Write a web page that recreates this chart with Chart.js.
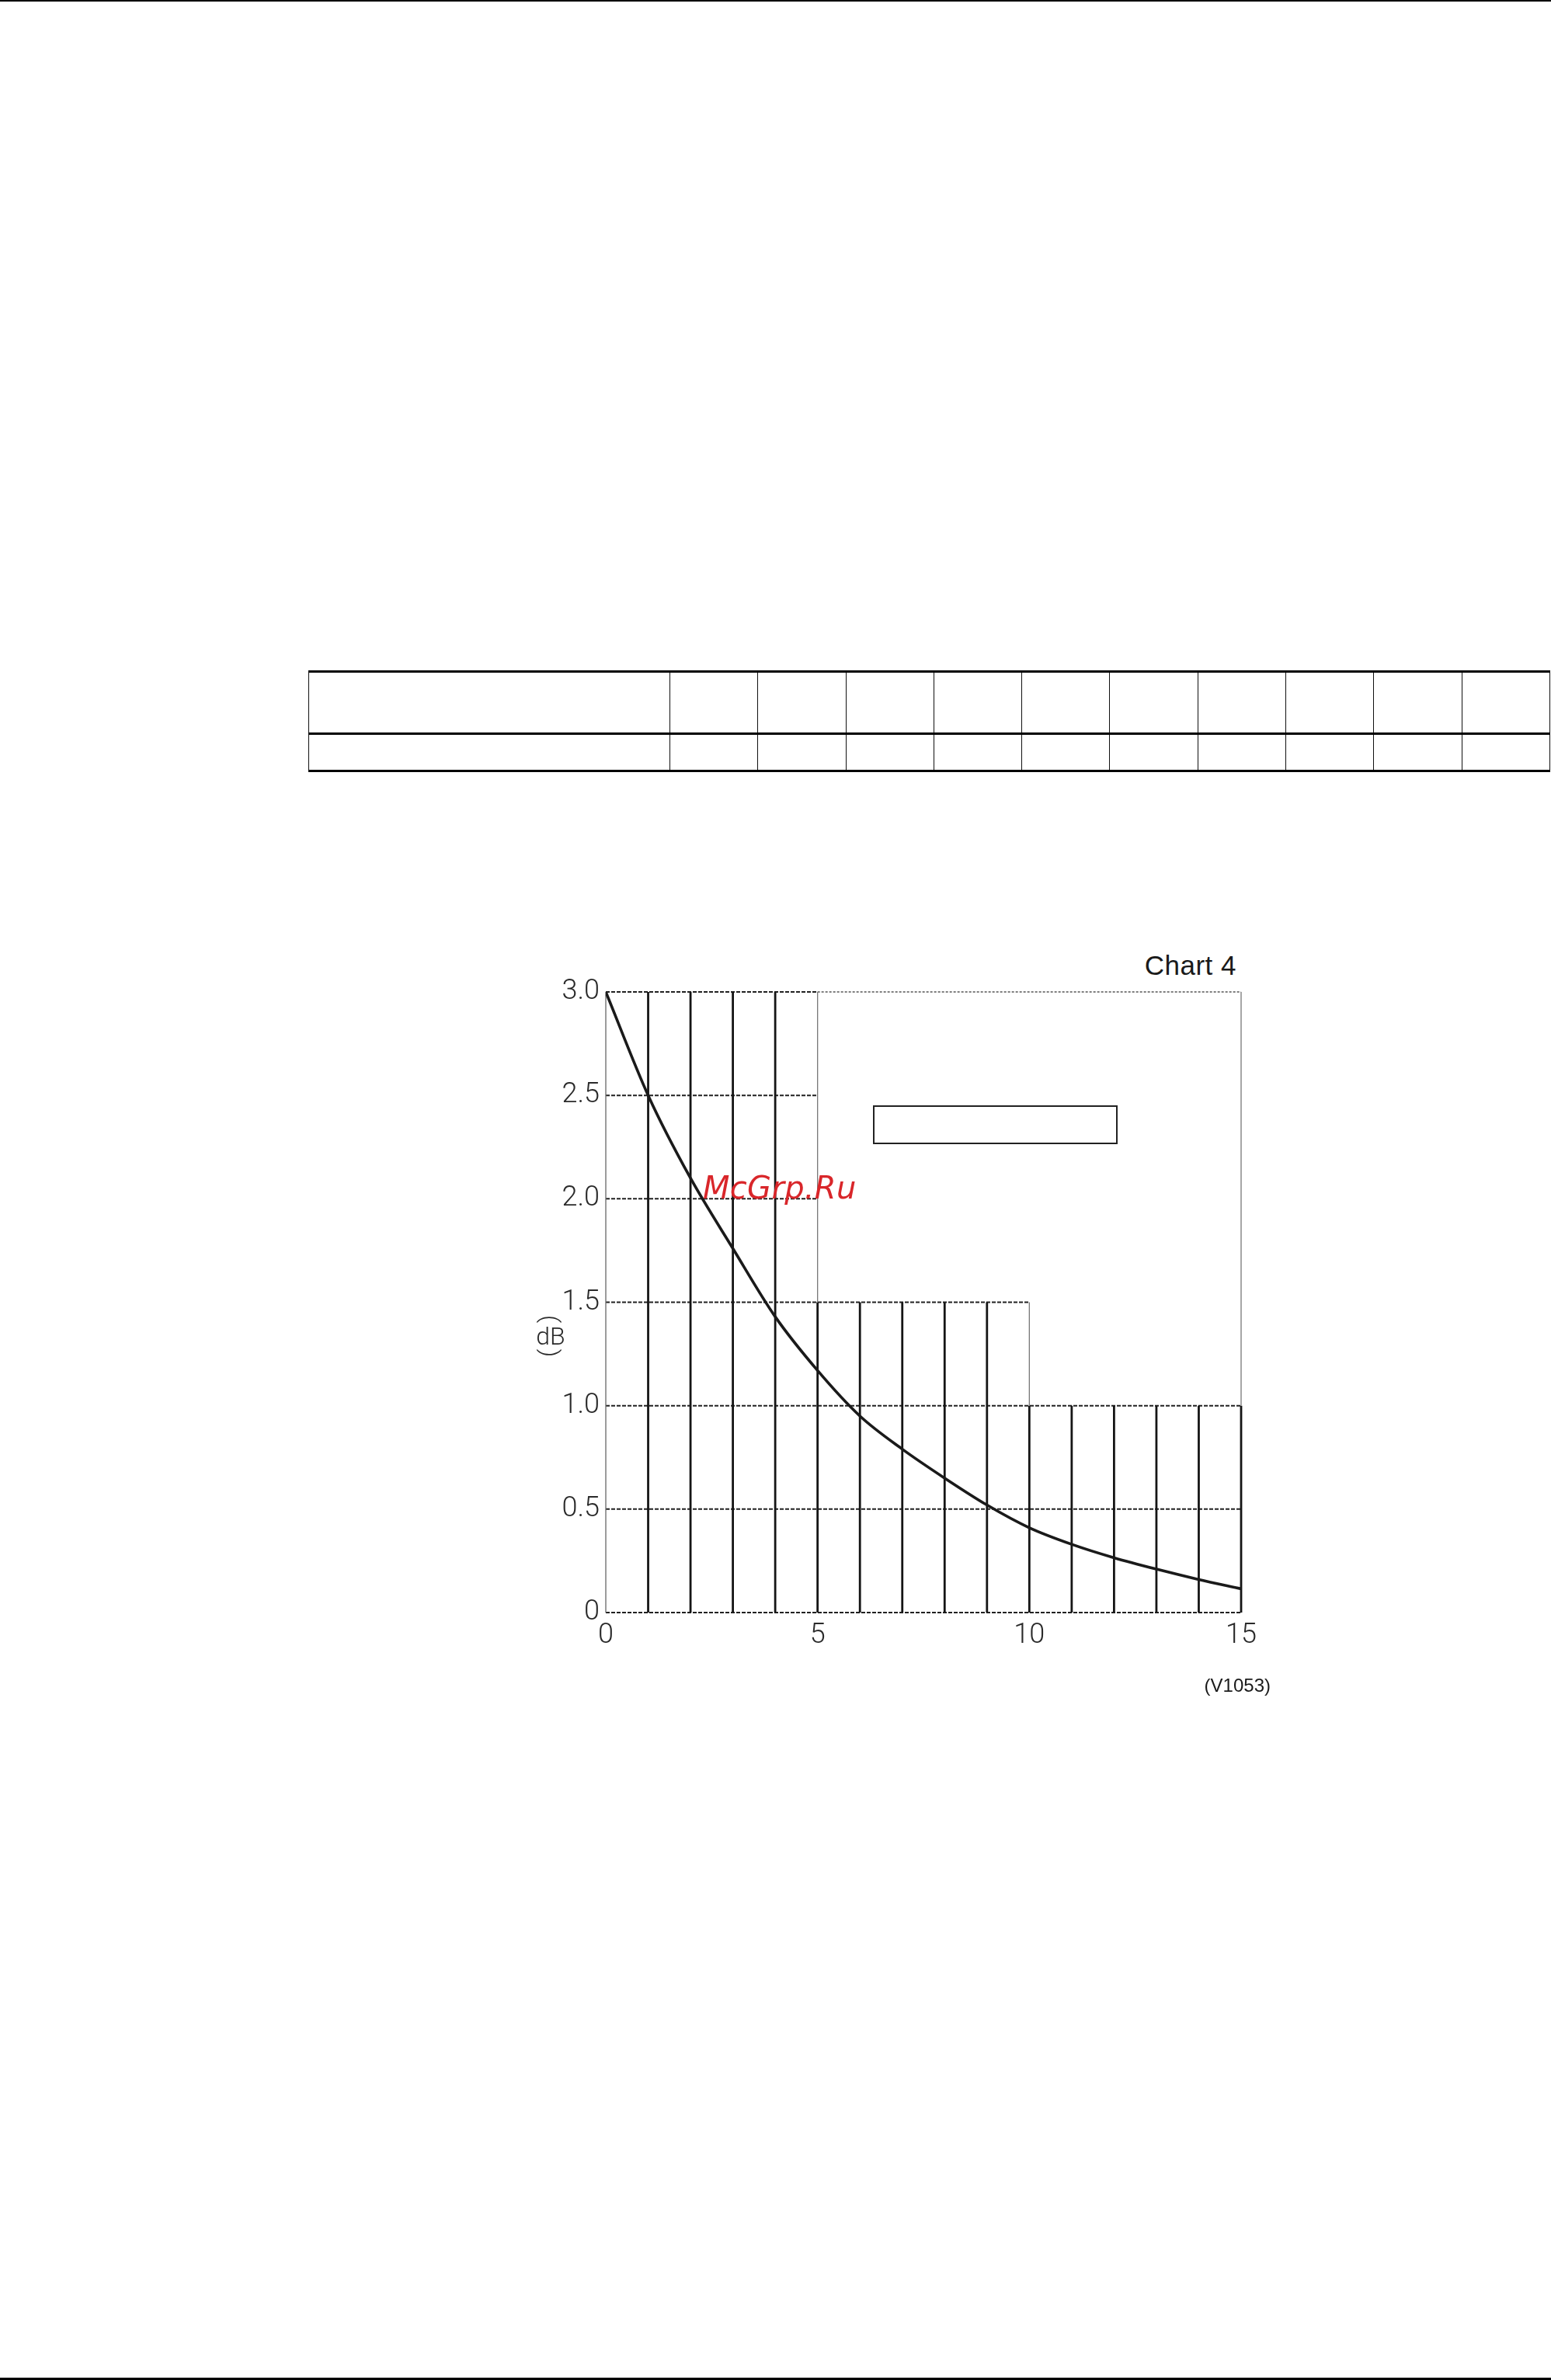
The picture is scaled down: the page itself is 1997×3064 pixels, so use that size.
<!DOCTYPE html>
<html>
<head>
<meta charset="utf-8">
<script src="https://cdn.jsdelivr.net/npm/chart.js@4.4.1/dist/chart.umd.min.js"></script>
<style>
  html, body { margin: 0; padding: 0; background: #fff; }
  body { width: 1997px; height: 3064px; position: relative; overflow: hidden; }
  .rule { position: absolute; left: 0; width: 1997px; background: #000; }
  table.blank { position: absolute; left: 397px; top: 863px; border-collapse: collapse; table-layout: fixed; width: 1599px; }
  table.blank td { border-left: 1.5px solid #111; border-right: 1.5px solid #111; border-top: 3px solid #000; border-bottom: 3px solid #000; padding: 0; }
  #chartBox { position: absolute; left: 680px; top: 1200px; width: 1000px; height: 1000px; }
  .txt { position: absolute; white-space: nowrap; color: #1a1a1a; }
  #title { left: 1292px; top: 1225px; width: 300px; text-align: right; font: 500 35px/35px "Liberation Sans", Arial, sans-serif; letter-spacing: 0.5px; }
  #code { left: 1435px; top: 2158px; width: 201px; text-align: right; font: 24px/24px "Liberation Sans", Arial, sans-serif; }
  #wm { left: 905px; top: 1509px; font: oblique 40px/40px "DejaVu Sans", sans-serif; color: #d9262a; z-index: 5; letter-spacing: 0.3px; }
  #legendBox { position: absolute; left: 1124px; top: 1423px; width: 311px; height: 46px; border: 2px solid #222; }
  #ylab { position: absolute; left: 689px; top: 1692px; width: 40px; display: flex; flex-direction: column; align-items: center;
          font: 300 32px/1 Roboto, "Liberation Sans", sans-serif; color: #2a2a2a; }
  #ylab .p { display: block; transform: rotate(90deg); line-height: 12px; height: 12px; }
</style>
</head>
<body>
<div class="rule" style="top:0;height:2px;"></div>
<div class="rule" style="top:3061px;height:3px;"></div>

<table class="blank">
  <colgroup>
    <col style="width:465px"><col><col><col><col><col><col><col><col><col><col>
  </colgroup>
  <tr style="height:80px"><td></td><td></td><td></td><td></td><td></td><td></td><td></td><td></td><td></td><td></td><td></td></tr>
  <tr style="height:48px"><td></td><td></td><td></td><td></td><td></td><td></td><td></td><td></td><td></td><td></td><td></td></tr>
</table>

<div id="title" class="txt">Chart 4</div>
<div id="chartBox"><canvas id="c"></canvas></div>
<div id="legendBox"></div>
<div id="wm" class="txt">McGrp.Ru</div>
<div id="ylab"><span class="p">(</span><span>dB</span><span class="p">)</span></div>
<div id="code" class="txt">(V1053)</div>

<script>
// ---- data ----
const xValues = [0, 1, 2, 3, 4, 5, 6, 7, 8, 9, 10, 11, 12, 13, 14, 15];
const lossDb  = [3.0, 2.5, 2.1, 1.76, 1.43, 1.17, 0.95, 0.79, 0.65, 0.52, 0.41, 0.33, 0.265, 0.21, 0.16, 0.115];
const yTickValues = [0, 0.5, 1.0, 1.5, 2.0, 2.5, 3.0];
const yTickLabels = ['0', '0.5', '1.0', '1.5', '2.0', '2.5', '3.0'];
const xTickValues = [0, 5, 10, 15];
const xTickLabels = ['0', '5', '10', '15'];
// stepped grid: band edges along x and the upper limit (dB) of the grid in each band
const bandEdges  = [0, 5, 10, 15];
const bandLimits = [3.0, 1.5, 1.0];

const tickFont = 'Roboto, "Liberation Sans", sans-serif';

const steppedGrid = {
  id: 'steppedGrid',
  beforeDatasetsDraw(chart) {
    const {ctx, scales: {x, y}} = chart;
    const maxLimit = Math.max(...bandLimits);
    const xMin = bandEdges[0], xMax = bandEdges[bandEdges.length - 1];
    const seg = (x1, y1, x2, y2, w, col, dash) => {
      ctx.save();
      ctx.beginPath();
      ctx.lineWidth = w; ctx.strokeStyle = col; ctx.setLineDash(dash || []);
      ctx.moveTo(x.getPixelForValue(x1), y.getPixelForValue(y1));
      ctx.lineTo(x.getPixelForValue(x2), y.getPixelForValue(y2));
      ctx.stroke();
      ctx.restore();
    };
    // horizontal lines
    yTickValues.forEach(v => {
      let end = xMin;
      for (let b = 0; b < bandLimits.length; b++) if (bandLimits[b] >= v - 1e-9) end = bandEdges[b + 1];
      seg(xMin, v, end, v, 2, '#222', [5, 2]);
      if (v === maxLimit && end < xMax) seg(end, v, xMax, v, 1.4, '#555', [3, 2]);
    });
    // vertical lines
    xValues.forEach(xv => {
      const adj = [];
      for (let b = 0; b < bandLimits.length; b++) {
        if (xv >= bandEdges[b] && xv <= bandEdges[b + 1]) adj.push(bandLimits[b]);
      }
      const lo = Math.min(...adj), hi = Math.max(...adj);
      if (xv === xMin) {
        seg(xv, 0, xv, hi, 1.3, '#666');
      } else {
        seg(xv, 0, xv, lo, 2.8, '#151515');
        if (hi > lo) seg(xv, lo, xv, hi, 1.3, '#777');
        if (xv === xMax && hi < maxLimit) seg(xv, hi, xv, maxLimit, 1.3, '#777');
      }
    });
  }
};

new Chart(document.getElementById('c'), {
  type: 'line',
  data: {
    datasets: [{
      data: xValues.map((v, i) => ({x: v, y: lossDb[i]})),
      borderColor: '#1a1a1a',
      borderWidth: 3.6,
      pointRadius: 0,
      fill: false,
      cubicInterpolationMode: 'monotone'
    }]
  },
  options: {
    responsive: true,
    maintainAspectRatio: false,
    animation: false,
    events: [],
    layout: { padding: { left: 0, top: 77, right: 82, bottom: 84 } },
    plugins: { legend: { display: false }, tooltip: { enabled: false } },
    scales: {
      x: {
        type: 'linear', min: 0, max: 15,
        afterFit: s => { s.height = 40; },
        afterBuildTicks: s => { s.ticks = xTickValues.map(v => ({value: v})); },
        grid: { display: false, drawTicks: false },
        border: { display: false },
        ticks: {
          padding: 8, color: '#2a2a2a', maxRotation: 0,
          font: { family: tickFont, size: 36, weight: 300 },
          callback: v => xTickLabels[xTickValues.indexOf(v)]
        }
      },
      y: {
        type: 'linear', min: 0, max: 3,
        afterFit: s => { s.width = 100; },
        afterBuildTicks: s => { s.ticks = yTickValues.map(v => ({value: v})); },
        grid: { display: false, drawTicks: false },
        border: { display: false },
        ticks: {
          padding: 8, color: '#2a2a2a',
          font: { family: tickFont, size: 36, weight: 300 },
          callback: v => yTickLabels[yTickValues.indexOf(v)]
        }
      }
    }
  },
  plugins: [steppedGrid]
});
</script>
</body>
</html>
